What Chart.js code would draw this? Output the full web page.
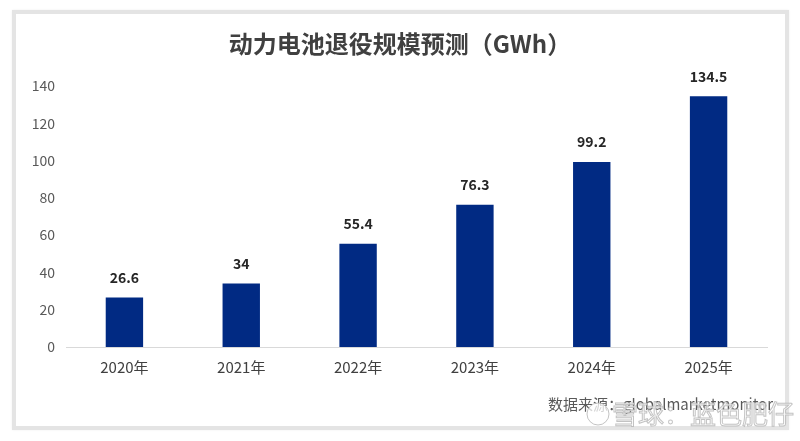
<!DOCTYPE html>
<html>
<head>
<meta charset="utf-8">
<script src="https://cdn.jsdelivr.net/npm/chart.js@4"></script>
<style>
  html, body { margin: 0; padding: 0; background: #ffffff; }
  #wrap { position: relative; width: 800px; height: 441px; overflow: hidden; }
  #frame { position: absolute; left: 12px; top: 10px; width: 769px; height: 412px;
           border: 4px solid #e4e4e4; box-shadow: 0 0 2px #f0f0f0; }
  canvas { position: absolute; left: 0; top: 0; }
</style>
</head>
<body>
<div id="wrap">
  <div id="frame"></div>
  <canvas id="c" width="800" height="441"></canvas>
</div>
<script>
const categories = ['2020年', '2021年', '2022年', '2023年', '2024年', '2025年'];
const values = [26.6, 34, 55.4, 76.3, 99.2, 134.5];
const valueLabels = ['26.6', '34', '55.4', '76.3', '99.2', '134.5'];
const yTicks = [0, 20, 40, 60, 80, 100, 120, 140];
const titleText = '动力电池退役规模预测（GWh）';
const sourceText = '数据来源：globalmarketmonitor';
const watermarkText = '雪球：蓝色肥仔';

const CJK = '"Noto Sans CJK SC", "Noto Sans", sans-serif';

const overlay = {
  id: 'overlay',
  afterDatasetsDraw(chart) {
    const ctx = chart.ctx;
    const meta = chart.getDatasetMeta(0);
    ctx.save();
    ctx.font = 'bold 14px ' + CJK;
    ctx.fillStyle = '#262626';
    ctx.textAlign = 'center';
    ctx.textBaseline = 'middle';
    meta.data.forEach((bar, i) => {
      ctx.fillText(valueLabels[i], bar.x, bar.y - 20);
    });
    ctx.restore();
  },
  afterDraw(chart) {
    const ctx = chart.ctx;
    ctx.save();
    ctx.font = 'bold 24px ' + CJK;
    ctx.fillStyle = '#404040';
    ctx.textAlign = 'center';
    ctx.textBaseline = 'middle';
    ctx.fillText(titleText, 400, 44);

    ctx.font = '15px ' + CJK;
    ctx.fillStyle = '#595959';
    ctx.textAlign = 'right';
    ctx.fillText(sourceText, 773, 404);

    // watermark
    ctx.font = '26px ' + CJK;
    ctx.textAlign = 'left';
    ctx.lineWidth = 1;
    ctx.strokeStyle = 'rgba(175,175,175,0.75)';
    ctx.fillStyle = 'rgba(255,255,255,0.75)';
    ctx.fillText(watermarkText, 612, 414);
    ctx.strokeText(watermarkText, 612, 414);
    ctx.beginPath();
    ctx.arc(598, 414, 11, 0, Math.PI * 2);
    ctx.fill();
    ctx.stroke();
    ctx.restore();
  }
};

new Chart(document.getElementById('c'), {
  type: 'bar',
  data: {
    labels: categories,
    datasets: [{
      data: values,
      backgroundColor: '#012a83',
      borderWidth: 0,
      barPercentage: 0.32,
      categoryPercentage: 1.0
    }]
  },
  options: {
    responsive: false,
    animation: false,
    devicePixelRatio: 1,
    layout: { padding: { left: 0, right: 33, top: 86, bottom: 54 } },
    plugins: {
      legend: { display: false },
      title: { display: false },
      tooltip: { enabled: false }
    },
    scales: {
      x: {
        grid: { display: false, drawTicks: false },
        border: { display: true, color: '#d9d9d9', width: 1 },
        ticks: {
          color: '#404040',
          font: { family: CJK, size: 15 },
          padding: 11
        },
        afterFit(scale) { scale.height = 40; }
      },
      y: {
        min: 0,
        max: 140,
        grid: { display: false, drawTicks: false },
        border: { display: false },
        afterBuildTicks(scale) { scale.ticks = yTicks.map(v => ({ value: v })); },
        ticks: {
          color: '#595959',
          font: { family: CJK, size: 14 },
          padding: 11
        },
        afterFit(scale) { scale.width = 66; }
      }
    }
  },
  plugins: [overlay]
});
</script>
</body>
</html>
